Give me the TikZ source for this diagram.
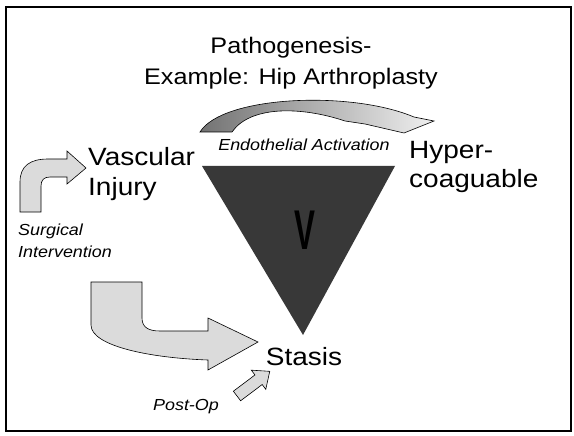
\documentclass[tikz,border=0pt]{standalone}
\usepackage{fontspec}
\setmainfont{Liberation Sans}[FakeStretch=1.12]

\begin{document}
\begin{tikzpicture}[x=1pt,y=-1pt,
  lbl/.style={inner sep=0pt,align=left,font=\fontsize{25}{30}\selectfont},
  note/.style={inner sep=0pt,align=left,font=\fontsize{16}{22}\selectfont\itshape},
  blockarr/.style={draw=black,line width=0.6pt,fill=black!14}]
\useasboundingbox (0,0) rectangle (574,436);
\draw[line width=2pt] (6,7) rectangle (571,431);
\node[inner sep=0pt,align=center,anchor=base,font=\fontsize{22.5}{32}\selectfont] (title) at (291,85) {Pathogenesis-\\Example: Hip Arthroplasty};
% triangle
\fill[black!78] (202,166) -- (395,166) -- (303,335) -- cycle;
\node[font=\fontsize{56}{56}\selectfont\bfseries,text=black,inner sep=0pt] (v) at (305,230) {\scalebox{0.5}[1]{V}};
\node[lbl,anchor=base west] (vasc) at (88,196) {Vascular\\Injury};
\node[lbl,anchor=base west] (hyper) at (409,188) {Hyper-\\coaguable};
\node[lbl,anchor=base] (stasis) at (304,365) {Stasis};
\node[note,anchor=base] (endo) at (304,150) {Endothelial Activation};
\node[note,anchor=base west] (surg) at (18,258) {Surgical\\Intervention};
\node[note,anchor=base] (postop) at (186,410) {Post-Op};
% block arrows
\shadedraw[left color=black!55,right color=black!6,draw=black,line width=0.6pt]
  (200,132) .. controls (222,96) and (350,90) .. (414,117) -- (434,121) -- (404,133)
  -- (365,124) -- (345,121) .. controls (300,106) and (250,106) .. (232,132) -- cycle;
\draw[blockarr] (20,212) -- (20,182) .. controls (20,166) and (30,159) .. (48,159) -- (67,159)
  -- (67,151) -- (86,168) -- (67,184) -- (67,177) -- (50,177)
  .. controls (44,177) and (41,180) .. (41,186) -- (41,212) -- cycle;
\draw[blockarr] (91,282) -- (142,282) -- (142,318) .. controls (142,327) and (148,331) .. (160,331)
  -- (208,331) -- (208,318) -- (258,342) -- (208,370) -- (208,360)
  .. controls (150,358) and (91,346) .. (91,325) -- cycle;
\draw[blockarr,shift={(237,396)},rotate=37] (0,-6) -- (27,-6) -- (27,-12) -- (41,0) -- (27,12) -- (27,6) -- (0,6) -- cycle;
\end{tikzpicture}
\end{document}
